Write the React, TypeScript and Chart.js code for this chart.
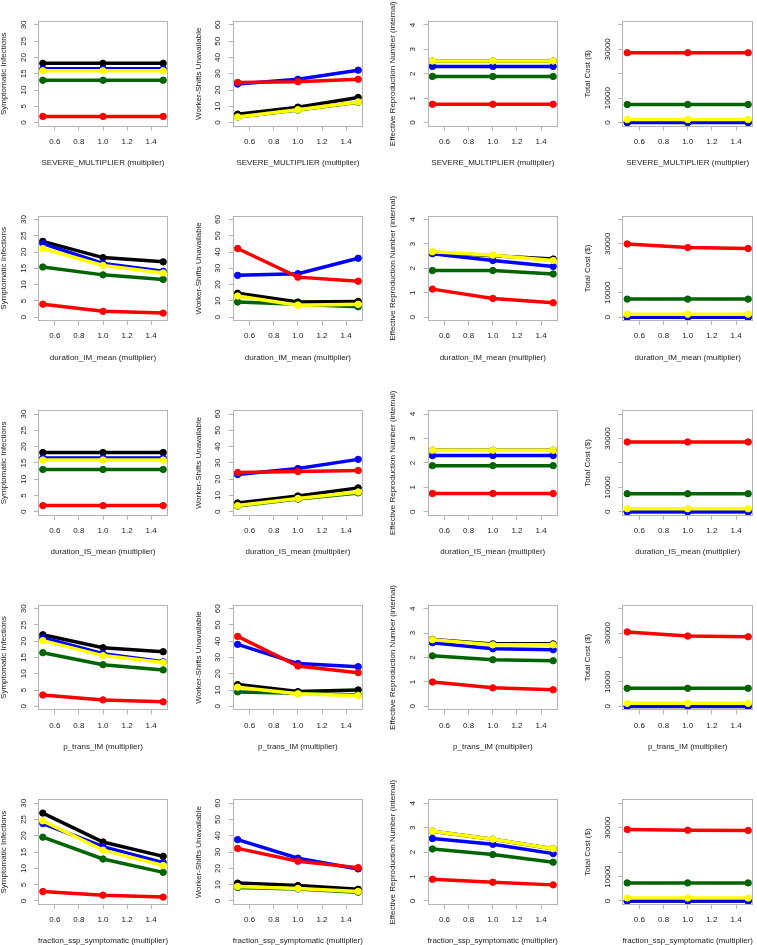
import React, { useEffect, useRef } from "react";
import { Chart, registerables } from "chart.js";

Chart.register(...registerables);

// ---- data -------------------------------------------------------------
const xValues = [0.5, 1.0, 1.5];
const xTickValues = [0.6, 0.8, 1.0, 1.2, 1.4];

const parameterNames = [
  "SEVERE_MULTIPLIER",
  "duration_IM_mean",
  "duration_IS_mean",
  "p_trans_IM",
  "fraction_ssp_symptomatic",
];

const metricTitles = [
  "Symptomatic Infections",
  "Worker-Shifts Unavailable",
  "Effective Reproduction Number (internal)",
  "Total Cost ($)",
];

// series order: black, blue, green, yellow, red
const seriesColors = ["#000000", "#0000ff", "#006400", "#ffff00", "#ff0000"];

const symptomaticTicks = [0, 5, 10, 15, 20, 25, 30];
const workerShiftTicks = [0, 10, 20, 30, 40, 50, 60];
const reproductionTicks = [0, 1, 2, 3, 4];
const costTicks = [0, 10000, 20000, 30000, 40000];
const costTickLabels = ["0", "10000", "", "30000", ""];

const severeSymptomatic = [
  [18.2, 18.2, 18.2],
  [16.5, 16.5, 16.5],
  [13.0, 13.0, 13.0],
  [15.9, 15.9, 15.9],
  [1.9, 1.9, 1.9],
];
const severeWorkerShifts = [
  [5.2, 9.5, 15.4],
  [23.7, 26.6, 32.2],
  [3.4, 7.7, 12.5],
  [3.5, 7.9, 12.7],
  [24.7, 25.1, 26.6],
];
const severeReproduction = [
  [2.52, 2.52, 2.52],
  [2.3, 2.3, 2.3],
  [1.89, 1.89, 1.89],
  [2.52, 2.52, 2.52],
  [0.75, 0.75, 0.75],
];
const severeCost = [
  [0, 0, 0],
  [100, 100, 100],
  [7400, 7400, 7400],
  [1250, 1250, 1250],
  [28600, 28600, 28600],
];

const imDurationSymptomatic = [
  [23.3, 18.3, 17.0],
  [22.6, 16.5, 14.1],
  [15.4, 13.0, 11.6],
  [21.1, 15.9, 13.6],
  [4.0, 1.8, 1.25],
];
const imDurationWorkerShifts = [
  [14.7, 9.3, 9.7],
  [25.7, 26.7, 36.2],
  [9.3, 7.9, 6.4],
  [13.0, 7.4, 7.9],
  [42.2, 24.6, 22.1],
];
const imDurationReproduction = [
  [2.66, 2.52, 2.38],
  [2.6, 2.32, 2.08],
  [1.91, 1.91, 1.77],
  [2.68, 2.54, 2.32],
  [1.15, 0.77, 0.59],
];
const imDurationCost = [
  [0, 0, 0],
  [100, 100, 100],
  [7400, 7400, 7400],
  [1250, 1250, 1250],
  [30000, 28500, 28100],
];

const isDurationSymptomatic = [
  [18.2, 18.2, 18.2],
  [16.5, 16.5, 16.5],
  [13.0, 13.0, 13.0],
  [15.9, 15.9, 15.9],
  [1.9, 1.9, 1.9],
];
const isDurationWorkerShifts = [
  [5.4, 9.7, 14.7],
  [22.9, 26.6, 32.2],
  [3.5, 7.8, 11.6],
  [3.8, 8.2, 12.2],
  [24.1, 24.7, 25.4],
];
const isDurationReproduction = [
  [2.52, 2.52, 2.52],
  [2.3, 2.3, 2.3],
  [1.89, 1.89, 1.89],
  [2.52, 2.52, 2.52],
  [0.75, 0.75, 0.75],
];
const isDurationCost = [
  [0, 0, 0],
  [100, 100, 100],
  [7400, 7400, 7400],
  [1250, 1250, 1250],
  [28600, 28600, 28600],
];

const transImSymptomatic = [
  [22.0, 18.0, 16.8],
  [21.1, 16.2, 13.7],
  [16.5, 12.8, 11.2],
  [20.2, 15.6, 13.5],
  [3.5, 2.0, 1.4],
];
const transImWorkerShifts = [
  [13.4, 9.1, 10.1],
  [38.1, 26.3, 24.4],
  [8.9, 8.1, 7.0],
  [11.8, 7.7, 6.6],
  [43.0, 24.8, 20.7],
];
const transImReproduction = [
  [2.74, 2.56, 2.56],
  [2.61, 2.36, 2.32],
  [2.07, 1.91, 1.87],
  [2.73, 2.52, 2.52],
  [1.0, 0.76, 0.68],
];
const transImCost = [
  [0, 0, 0],
  [100, 100, 100],
  [7400, 7400, 7400],
  [1250, 1250, 1250],
  [30500, 28800, 28500],
];

const sspSymptomaticSymptomatic = [
  [27.0, 18.1, 13.7],
  [23.8, 16.7, 11.8],
  [19.6, 12.9, 8.8],
  [24.6, 15.6, 10.9],
  [2.9, 1.8, 1.2],
];
const sspSymptomaticWorkerShifts = [
  [11.0, 9.5, 7.2],
  [37.7, 26.3, 19.7],
  [8.3, 7.4, 5.4],
  [8.9, 7.7, 5.9],
  [32.3, 24.4, 20.5],
];
const sspSymptomaticReproduction = [
  [2.86, 2.53, 2.14],
  [2.56, 2.32, 1.94],
  [2.13, 1.9, 1.59],
  [2.86, 2.53, 2.14],
  [0.89, 0.77, 0.66],
];
const sspSymptomaticCost = [
  [0, 0, 0],
  [100, 100, 100],
  [7400, 7400, 7400],
  [1250, 1250, 1250],
  [29300, 29000, 28900],
];

const panelSeries = [
  [severeSymptomatic, severeWorkerShifts, severeReproduction, severeCost],
  [imDurationSymptomatic, imDurationWorkerShifts, imDurationReproduction, imDurationCost],
  [isDurationSymptomatic, isDurationWorkerShifts, isDurationReproduction, isDurationCost],
  [transImSymptomatic, transImWorkerShifts, transImReproduction, transImCost],
  [sspSymptomaticSymptomatic, sspSymptomaticWorkerShifts, sspSymptomaticReproduction, sspSymptomaticCost],
];

const metricTicks = [symptomaticTicks, workerShiftTicks, reproductionTicks, costTicks];
const metricTickLabels = [
  symptomaticTicks.map(String),
  workerShiftTicks.map(String),
  reproductionTicks.map(String),
  costTickLabels,
];

// ---- layout -----------------------------------------------------------
const BOX_LEFT0 = 38;
const COL_STEP = 194.8;
const BOX_TOP0 = 21;
const ROW_STEP = 194.6;
const BOX_W = 134;
const BOX_H = 105.5;
const X_AXIS_H = 41;
const TICK_LEN = 4;
const Y_LABEL_OFFSET = 14.7;
const Y_TITLE_OFFSET = 34.5;

const FONT_FAMILY = '"Liberation Sans", Arial, Helvetica, sans-serif';
const FONT_SIZE = 8;
const TEXT_COLOR = "#222222";
const FRAME_COLOR = "#b4b4b4";

const measureCtx = document.createElement("canvas").getContext("2d") as CanvasRenderingContext2D;
function textWidth(s: string): number {
  measureCtx.font = `${FONT_SIZE}px ${FONT_FAMILY}`;
  return measureCtx.measureText(s).width;
}

// light grey box around each plotting region
const framePlugin = {
  id: "frame",
  afterDatasetsDraw(chart: any) {
    const { ctx, chartArea: a } = chart;
    const l = Math.round(a.left) + 0.5;
    const t = Math.round(a.top) + 0.5;
    const r = Math.round(a.right) - 0.5;
    const b = Math.round(a.bottom) - 0.5;
    ctx.save();
    ctx.strokeStyle = FRAME_COLOR;
    ctx.lineWidth = 1;
    ctx.strokeRect(l, t, r - l, b - t);
    ctx.restore();
  },
};

function Panel({ row, col }: { row: number; col: number }) {
  const ref = useRef<HTMLCanvasElement>(null);

  const boxLeft = BOX_LEFT0 + col * COL_STEP;
  const boxTop = BOX_TOP0 + row * ROW_STEP;
  const canvasLeft = Math.floor(boxLeft - 40);
  const canvasTop = Math.max(0, Math.floor(boxTop - 24));
  const yW = boxLeft - canvasLeft;
  const padTop = boxTop - canvasTop;
  const canvasW = Math.ceil(yW + BOX_W + 1);
  const padRight = canvasW - yW - BOX_W;
  const canvasH = Math.ceil(padTop + BOX_H + X_AXIS_H);
  const padBottom = canvasH - padTop - BOX_H - X_AXIS_H;

  useEffect(() => {
    const series = panelSeries[row][col];
    const ticks = metricTicks[col];
    const labels = metricTickLabels[col];
    const top = ticks[ticks.length - 1];
    const widest = Math.max(...labels.map(textWidth));
    const font = { family: FONT_FAMILY, size: FONT_SIZE, lineHeight: 1.2 };

    const chart = new Chart(ref.current as HTMLCanvasElement, {
      type: "line",
      data: {
        datasets: series.map((vals, i) => ({
          data: xValues.map((x, j) => ({ x, y: vals[j] })),
          borderColor: seriesColors[i],
          backgroundColor: seriesColors[i],
          pointBackgroundColor: seriesColors[i],
          pointBorderColor: seriesColors[i],
          borderWidth: 3.5,
          pointRadius: 3.2,
          pointBorderWidth: 1,
          tension: 0,
          order: seriesColors.length - 1 - i,
        })),
      },
      options: {
        animation: false,
        responsive: false,
        devicePixelRatio: 1,
        events: [],
        layout: { padding: { left: 0, top: padTop, right: padRight, bottom: padBottom } },
        plugins: {
          legend: { display: false },
          tooltip: { enabled: false },
        },
        scales: {
          x: {
            type: "linear",
            min: 0.46,
            max: 1.54,
            afterBuildTicks: (s: any) => {
              s.ticks = xTickValues.map((v) => ({ value: v }));
            },
            afterFit: (s: any) => {
              s.height = X_AXIS_H;
            },
            ticks: {
              autoSkip: false,
              maxRotation: 0,
              padding: 6.2,
              color: TEXT_COLOR,
              font,
              callback: (v: any) => Number(v).toFixed(1),
            },
            grid: {
              drawOnChartArea: false,
              drawTicks: true,
              tickLength: TICK_LEN,
              color: FRAME_COLOR,
            },
            border: { display: false },
            title: {
              display: true,
              text: `${parameterNames[row]} (multiplier)`,
              color: TEXT_COLOR,
              font,
              padding: { top: 0, bottom: 0 },
            },
          },
          y: {
            type: "linear",
            min: -0.04 * top,
            max: 1.04 * top,
            afterBuildTicks: (s: any) => {
              s.ticks = ticks.map((v) => ({ value: v }));
            },
            afterFit: (s: any) => {
              s.width = yW;
            },
            ticks: {
              autoSkip: false,
              minRotation: 90,
              maxRotation: 90,
              crossAlign: "center",
              padding: Y_LABEL_OFFSET - TICK_LEN - widest / 2,
              color: TEXT_COLOR,
              font,
              callback: (_v: any, index: number) => labels[index],
            },
            grid: {
              drawOnChartArea: false,
              drawTicks: true,
              tickLength: TICK_LEN,
              color: FRAME_COLOR,
            },
            border: { display: false },
            title: {
              display: true,
              text: metricTitles[col],
              color: TEXT_COLOR,
              font,
              padding: { top: yW - Y_TITLE_OFFSET - (FONT_SIZE * 1.2) / 2, bottom: 0 },
            },
          },
        },
      } as any,
      plugins: [framePlugin],
    });
    return () => chart.destroy();
  }, [row, col]);

  return (
    <canvas
      ref={ref}
      width={canvasW}
      height={canvasH}
      style={{
        position: "absolute",
        left: canvasLeft,
        top: canvasTop,
        width: canvasW,
        height: canvasH,
      }}
    />
  );
}

export default function App() {
  return (
    <div
      style={{
        position: "absolute",
        left: 0,
        top: 0,
        width: 757,
        height: 945,
        background: "#ffffff",
        overflow: "hidden",
      }}
    >
      {parameterNames.map((_, row) =>
        metricTitles.map((__, col) => <Panel key={`${row}-${col}`} row={row} col={col} />)
      )}
    </div>
  );
}
